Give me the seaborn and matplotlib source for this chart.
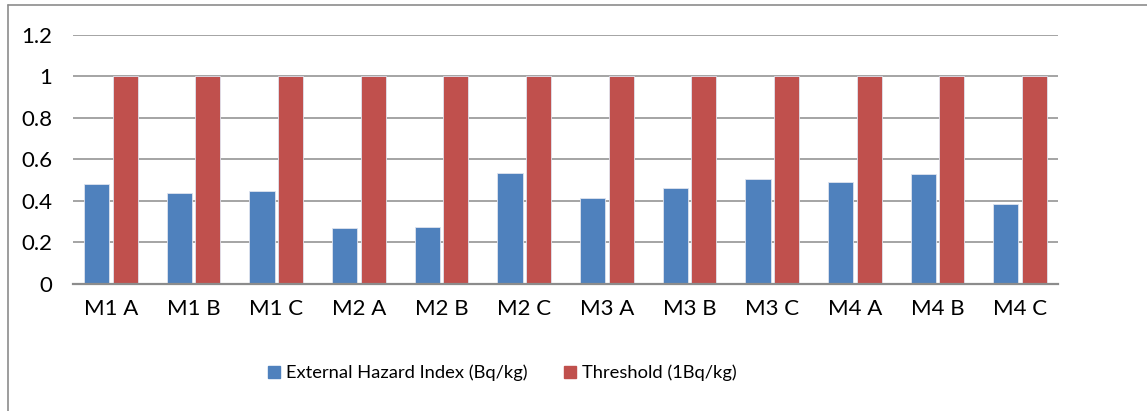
import numpy as np
import pandas as pd
import seaborn as sns
import matplotlib.pyplot as plt
from matplotlib.lines import Line2D

# values
samples = ["M1 A", "M1 B", "M1 C", "M2 A", "M2 B", "M2 C",
           "M3 A", "M3 B", "M3 C", "M4 A", "M4 B", "M4 C"]
hazard_index = [0.479, 0.439, 0.445, 0.270, 0.275, 0.532,
                0.414, 0.461, 0.505, 0.489, 0.527, 0.384]
threshold = [1, 1, 1, 1, 1, 1, 1, 1, 1, 1, 1, 1]
series_names = ["External Hazard Index (Bq/kg)", "Threshold (1Bq/kg)"]
yticks = [0, 0.2, 0.4, 0.6, 0.8, 1, 1.2]
ytick_labels = ["0", "0.2", "0.4", "0.6", "0.8", "1", "1.2"]

df = pd.DataFrame({
    "sample": samples * 2,
    "value": hazard_index + threshold,
    "series": [series_names[0]] * len(samples) + [series_names[1]] * len(samples),
})

sns.set_style("white")
plt.rcParams["font.family"] = ["Lato", "DejaVu Sans"]

fig = plt.figure(figsize=(11.47, 4.11), dpi=100)
ax = fig.add_axes([0.0636, 0.309, 0.859, 0.607])

colors = ["#4F81BD", "#C0504D"]
sns.barplot(data=df, x="sample", y="value", hue="series", order=samples,
            hue_order=series_names, palette=colors, saturation=1,
            width=0.69, gap=0.12, edgecolor="#dfe3ee", linewidth=0.6,
            legend=False, ax=ax)

ax.set_ylim(0, 1.2)
ax.set_xlim(-0.46, len(samples) - 0.54)
ax.set_yticks(yticks)
ax.set_yticklabels(ytick_labels)
ax.set_xlabel("")
ax.set_ylabel("")
ax.set_axisbelow(True)
ax.yaxis.grid(True, color="#8c8c8c", linewidth=1.1)
ax.tick_params(axis="y", length=0, pad=15, labelsize=16, labelcolor="black")
ax.tick_params(axis="x", length=0, pad=11, labelsize=16, labelcolor="black")
for s in ["top", "right", "left"]:
    ax.spines[s].set_visible(False)
ax.spines["bottom"].set_color("#8c8c8c")
ax.spines["bottom"].set_linewidth(1.6)

# legend at the bottom
handles = [plt.Rectangle((0, 0), 1, 1, color=c) for c in colors]
fig.legend(handles, series_names, loc="center", bbox_to_anchor=(0.438, 0.092),
           ncol=2, frameon=False, fontsize=13.2, handlelength=0.65,
           handleheight=0.7, handletextpad=0.3, columnspacing=2.0,
           labelcolor="black")

# chart frame (left and top edges visible)
fig.add_artist(Line2D([0.007, 0.007], [0, 0.988], color="#8c8c8c", linewidth=1.2,
                      transform=fig.transFigure))
fig.add_artist(Line2D([0.007, 1.0], [0.988, 0.988], color="#8c8c8c", linewidth=1.2,
                      transform=fig.transFigure))

fig.savefig("out.png", dpi=100)
